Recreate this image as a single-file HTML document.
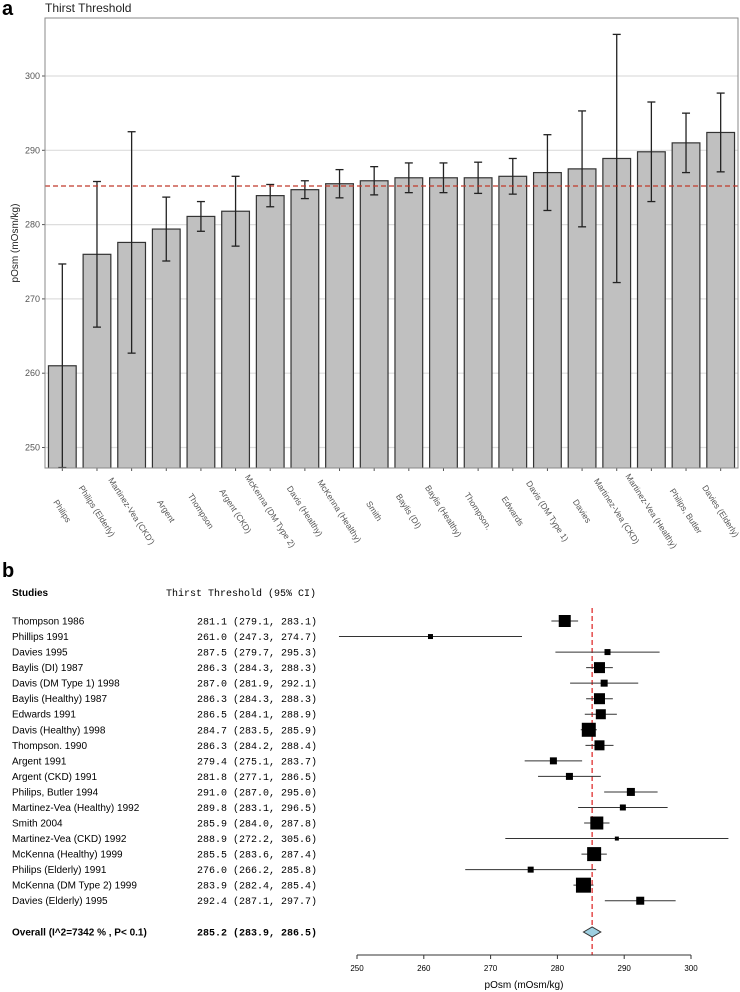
<!DOCTYPE html>
<html><head><meta charset="utf-8"><style>
html,body{margin:0;padding:0;background:#fff;}
svg{display:block;font-family:"Liberation Sans",sans-serif;}
</style></head><body>
<svg id="fig" width="740" height="992" viewBox="0 0 740 992"></svg>
<script>
// Panel a data
const barLabels=["Philips","Philips (Elderly)","Martinez-Vea (CKD')","Argent","Thompson","Argent (CKD)","McKenna (DM Type 2)","Davis (Healthy)","McKenna (Healthy)","Smith","Baylis (DI)","Baylis (Healthy)","Thompson.","Edwards","Davis (DM Type 1)","Davies","Martinez-Vea (CKD)","Martinez-Vea (Healthy)","Philips, Butler","Davies (Elderly)"];
const barMeans=[261.0,276.0,277.6,279.4,281.1,281.8,283.9,284.7,285.5,285.9,286.3,286.3,286.3,286.5,287.0,287.5,288.9,289.8,291.0,292.4];
const barLo=[247.3,266.2,262.7,275.1,279.1,277.1,282.4,283.5,283.6,284.0,284.3,284.3,284.2,284.1,281.9,279.7,272.2,283.1,287.0,287.1];
const barHi=[274.7,285.8,292.5,283.7,283.1,286.5,285.4,285.9,287.4,287.8,288.3,288.3,288.4,288.9,292.1,295.3,305.6,296.5,295.0,297.7];
const yTicks=[250,260,270,280,290,300];
const refValue=285.2;
// Panel b data
const studies=["Thompson 1986","Phillips 1991","Davies 1995","Baylis (DI) 1987","Davis (DM Type 1) 1998","Baylis (Healthy) 1987","Edwards 1991","Davis (Healthy) 1998","Thompson. 1990","Argent 1991","Argent (CKD) 1991","Philips, Butler 1994","Martinez-Vea (Healthy) 1992","Smith 2004","Martinez-Vea (CKD) 1992","McKenna (Healthy) 1999","Philips (Elderly) 1991","McKenna (DM Type 2) 1999","Davies (Elderly) 1995"];
const estMeans=[281.1,261.0,287.5,286.3,287.0,286.3,286.5,284.7,286.3,279.4,281.8,291.0,289.8,285.9,288.9,285.5,276.0,283.9,292.4];
const estLo=[279.1,247.3,279.7,284.3,281.9,284.3,284.1,283.5,284.2,275.1,277.1,287.0,283.1,284.0,272.2,283.6,266.2,282.4,287.1];
const estHi=[283.1,274.7,295.3,288.3,292.1,288.3,288.9,285.9,288.4,283.7,286.5,295.0,296.5,287.8,305.6,287.4,285.8,285.4,297.7];
const weights=[12,5,6,11,7,11,10,14,10,7,7,8,6,13,4,14,6,15,8];
const overall=[285.2,283.9,286.5];
const xTicks=[250,260,270,280,290,300];

const NS="http://www.w3.org/2000/svg";
const svg=document.getElementById('fig');
function mk(tag,attrs,parent){const e=document.createElementNS(NS,tag);for(const k in attrs)e.setAttribute(k,attrs[k]);(parent||svg).appendChild(e);return e;}
function txt(s,attrs,parent){const e=mk('text',attrs,parent);e.textContent=s;return e;}

// ---- Panel a ----
const PL=45,PT=18,PR=738,PB=468;
const yA=v=>150.3-(v-290)*7.43;
const step=(PR-PL)/barLabels.length;
const xA=i=>PL+step*(i+0.5);
const bw=step*0.8;
let t;
t=txt('a',{x:2,y:15,'font-size':20,'font-weight':'bold'});

t=txt('Thirst Threshold',{x:45,y:12,'font-size':12,fill:'#222'});

const clip=mk('clipPath',{id:'cp'});mk('rect',{x:PL,y:PT,width:PR-PL,height:PB-PT},clip);
yTicks.forEach(v=>{
 const g=mk('line',{x1:PL,x2:PR,y1:yA(v),y2:yA(v),stroke:'#ddd','stroke-width':1.2});
 
 mk('line',{x1:PL-3,x2:PL,y1:yA(v),y2:yA(v),stroke:'#555'});
 const l=txt(String(v),{x:PL-5,y:yA(v)+3,'font-size':9,fill:'#555','text-anchor':'end'});
 
});
const gb=mk('g',{'clip-path':'url(#cp)'});
barLabels.forEach((n,i)=>{
 const x=xA(i);
 const r=mk('rect',{x:x-bw/2,y:yA(barMeans[i]),width:bw,height:PB-yA(barMeans[i])+2,fill:'#c0c0c0',stroke:'#333','stroke-width':1.2},gb);
 
});
const ref=mk('line',{x1:PL,x2:PR,y1:yA(refValue),y2:yA(refValue),stroke:'#c0392b','stroke-width':1.3,'stroke-dasharray':'5,3'});

barLabels.forEach((n,i)=>{
 const x=xA(i);
 const eb=mk('g',{stroke:'#222','stroke-width':1.3},gb);
 
 mk('line',{x1:x,x2:x,y1:yA(barLo[i]),y2:yA(barHi[i])},eb);
 mk('line',{x1:x-4,x2:x+4,y1:yA(barLo[i]),y2:yA(barLo[i])},eb);
 mk('line',{x1:x-4,x2:x+4,y1:yA(barHi[i]),y2:yA(barHi[i])},eb);
 mk('line',{x1:x,x2:x,y1:PB,y2:PB+3,stroke:'#555'});
 const l=txt(n,{x:x,y:514,'font-size':8.5,fill:'#555','text-anchor':'middle',transform:`rotate(57 ${x} 511)`});
 
});
const fr=mk('rect',{x:PL,y:PT,width:PR-PL,height:PB-PT,fill:'none',stroke:'#888','stroke-width':1});

t=txt('pOsm (mOsm/kg)',{x:0,y:0,'font-size':10,fill:'#222','text-anchor':'middle',transform:`translate(18 ${(PT+PB)/2}) rotate(-90)`});


// ---- Panel b ----
const xB=v=>357+(v-250)*6.68;
const rowY=i=>621+i*15.54;
t=txt('b',{x:2,y:577,'font-size':20,'font-weight':'bold'});

t=txt('Studies',{x:12,y:596,'font-size':10,'font-weight':'bold'});

t=txt('Thirst Threshold (95% CI)',{x:166,y:596,'font-size':10,'font-family':'Liberation Mono, monospace'});

const rl=mk('line',{x1:xB(overall[0]),x2:xB(overall[0]),y1:608,y2:955,stroke:'#e03030','stroke-width':1.3,'stroke-dasharray':'5,3'});

const f=v=>v.toFixed(1);
studies.forEach((s,i)=>{
 const y=rowY(i);
 let l=txt(s,{x:12,y:y+3.5,'font-size':10});
 
 l=txt(`${f(estMeans[i])} (${f(estLo[i])}, ${f(estHi[i])})`,{x:197,y:y+3.5,'font-size':10,'font-family':'Liberation Mono, monospace'});
 
 const ln=mk('line',{x1:xB(estLo[i]),x2:xB(estHi[i]),y1:y,y2:y,stroke:'#333','stroke-width':1});
 
 const w=weights[i];
 const b=mk('rect',{x:xB(estMeans[i])-w/2,y:y-w/2,width:w,height:w,fill:'#000'});
 
});
const oy=932;
t=txt('Overall (I^2=7342 % , P< 0.1)',{x:12,y:oy+3.5,'font-size':10,'font-weight':'bold'});

t=txt(`${f(overall[0])} (${f(overall[1])}, ${f(overall[2])})`,{x:197,y:oy+3.5,'font-size':10,'font-weight':'bold','font-family':'Liberation Mono, monospace'});

const d=mk('polygon',{points:`${xB(overall[1])},${oy} ${xB(overall[0])},${oy-5} ${xB(overall[2])},${oy} ${xB(overall[0])},${oy+5}`,fill:'#9ecfe0',stroke:'#333','stroke-width':1});

const ax=mk('line',{x1:xB(250),x2:xB(300),y1:955,y2:955,stroke:'#333'});

xTicks.forEach(v=>{
 mk('line',{x1:xB(v),x2:xB(v),y1:955,y2:959,stroke:'#333'});
 const l=txt(String(v),{x:xB(v),y:971,'font-size':8,'text-anchor':'middle'});
 
});
t=txt('pOsm (mOsm/kg)',{x:xB(275),y:988,'font-size':10,'text-anchor':'middle'});

</script>
</body></html>
